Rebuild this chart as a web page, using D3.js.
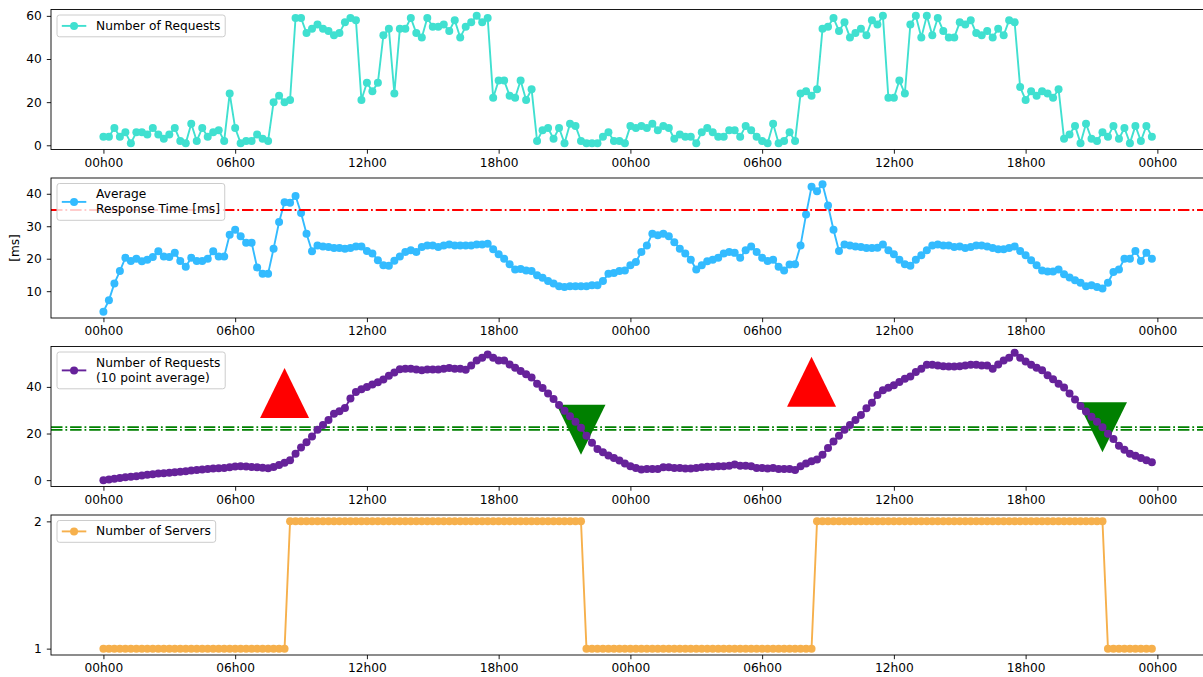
<!DOCTYPE html>
<html>
<head>
<meta charset="utf-8">
<script src="https://cdn.jsdelivr.net/npm/d3@7"></script>
<style>
  html, body { margin: 0; padding: 0; background: #fff; }
  svg { display: block; font-family: "DejaVu Sans", sans-serif; }
</style>
</head>
<body>
<svg id="chart" width="1203" height="677"></svg>
<script>
// Sampling: one point every 15 minutes over two days
const START = new Date(2021, 0, 1, 0, 0);
const STEP_MINUTES = 15;

const requests = [
  4,4,8,4,6,1,6,6,5,8,
  5,3,5,8,2,1,10,2,8,4,
  6,7,2,24,8,1,2,2,5,3,
  2,20,23,20,21,59,59,52,54,56,
  54,53,51,52,57,59,58,21,29,25,
  29,51,54,24,54,54,59,52,50,59,
  55,55,56,53,58,50,55,57,60,57,
  59,22,30,30,23,22,30,21,26,2,
  7,8,3,8,1,10,9,2,1,1,
  1,4,6,2,2,1,9,8,9,8,
  10,7,9,8,3,5,4,4,1,6,
  8,6,4,4,7,7,4,9,7,4,
  2,1,10,1,2,6,2,24,25,23,
  26,54,55,59,53,57,50,52,54,51,
  58,56,60,22,22,30,24,56,60,50,
  60,51,59,53,50,50,57,56,58,52,
  51,53,50,54,51,58,57,27,21,25,
  23,25,24,22,26,3,5,9,1,10,
  3,2,6,4,9,3,8,1,9,2,
  9,4
];

const responseTime = [
  3.7,7.2,12.4,16.2,20.3,19.3,20.0,19.2,19.7,20.5,
  22.3,20.7,20.5,21.8,19.3,17.5,20.3,19.3,19.3,20.0,
  22.3,20.7,20.7,27.4,28.9,26.9,24.9,24.9,17.3,15.4,
  15.4,23.1,31.3,37.4,37.2,39.3,34.1,27.7,22.3,24.1,
  23.8,23.6,23.3,23.3,23.1,23.3,23.8,23.8,22.4,21.6,
  19.5,18.0,17.8,19.4,20.7,22.1,22.6,22.1,23.6,24.1,
  24.1,23.6,24.1,24.4,24.1,24.1,24.1,24.1,24.4,24.4,
  24.6,22.9,21.4,20.0,18.3,16.7,16.8,16.4,16.2,14.9,
  14.1,13.1,12.4,11.5,11.3,11.5,11.5,11.5,11.5,11.8,
  11.8,13.1,15.4,15.6,16.2,16.4,18.0,19.0,22.1,24.1,
  27.7,27.2,27.7,26.9,25.1,23.1,21.6,19.7,16.7,18.0,
  19.2,19.7,20.3,21.6,22.1,21.8,20.3,22.6,23.8,22.1,
  20.3,19.3,19.7,17.5,16.4,18.2,18.3,24.1,33.6,42.2,
  40.8,42.9,36.4,28.9,22.4,24.4,24.1,23.8,23.6,23.3,
  23.3,23.4,24.4,22.6,21.4,19.7,18.3,17.8,19.7,21.1,
  22.6,24.1,24.4,24.1,24.1,23.6,23.8,23.3,23.6,24.1,
  24.1,23.8,23.3,22.9,22.9,23.3,23.8,22.4,21.1,19.5,
  18.0,16.4,16.1,16.1,16.7,15.2,14.2,13.4,12.6,11.5,
  11.8,11.3,10.8,12.6,15.9,16.7,20.0,20.0,22.4,19.3,
  21.8,20.0
];

const requestsAvg = [
  0,0.3,0.6,0.9,1.2,1.4,1.7,2.0,2.3,2.5,
  2.8,3.0,3.2,3.4,3.6,3.8,4.1,4.3,4.6,4.8,
  5.0,5.1,5.2,5.5,5.9,6.0,5.8,5.6,5.5,5.3,
  5.1,5.6,6.5,7.5,8.5,11.3,14.0,16.2,18.7,21.6,
  23.7,25.8,28.5,29.5,31.0,35.0,37.8,39.0,40.0,41.0,
  42.0,43.2,44.8,46.2,47.6,47.8,47.8,47.5,47.1,47.5,
  47.5,47.5,47.8,48.1,47.8,47.8,47.4,49.2,51.3,52.5,
  53.9,52.5,51.3,51.3,49.6,48.2,46.8,45.4,44.0,41.4,
  39.5,37.2,34.8,32.2,29.8,27.4,25.0,22.5,19.0,16.0,
  13.4,12.0,10.6,9.5,8.4,7.1,6.0,5.2,4.6,4.8,
  4.8,4.8,5.5,5.5,5.2,5.2,5.0,5.0,5.2,5.5,
  5.7,5.7,6.0,6.0,6.2,6.7,6.2,6.2,6.0,5.2,
  5.2,5.0,5.2,4.8,4.8,4.8,4.3,6.0,7.1,8.1,
  8.8,10.9,13.8,16.6,19.0,21.6,23.7,25.8,27.9,30.8,
  33.2,36.5,38.6,39.6,40.7,42.1,43.5,44.5,46.4,47.8,
  49.5,49.5,49.2,48.9,48.8,48.8,48.9,49.2,49.5,49.5,
  49.2,49.2,47.8,49.6,51.3,52.5,54.6,52.5,50.9,49.5,
  48.2,47.1,45.0,43.3,41.4,39.7,37.2,34.6,31.8,29.4,
  27.2,25.1,22.7,19.9,17.6,14.8,13.0,11.3,10.5,9.5,
  8.5,7.7
];

const servers = [
  1,1,1,1,1,1,1,1,1,1,
  1,1,1,1,1,1,1,1,1,1,
  1,1,1,1,1,1,1,1,1,1,
  1,1,1,1,2,2,2,2,2,2,
  2,2,2,2,2,2,2,2,2,2,
  2,2,2,2,2,2,2,2,2,2,
  2,2,2,2,2,2,2,2,2,2,
  2,2,2,2,2,2,2,2,2,2,
  2,2,2,2,2,2,2,2,1,1,
  1,1,1,1,1,1,1,1,1,1,
  1,1,1,1,1,1,1,1,1,1,
  1,1,1,1,1,1,1,1,1,1,
  1,1,1,1,1,1,1,1,1,1,
  2,2,2,2,2,2,2,2,2,2,
  2,2,2,2,2,2,2,2,2,2,
  2,2,2,2,2,2,2,2,2,2,
  2,2,2,2,2,2,2,2,2,2,
  2,2,2,2,2,2,2,2,2,2,
  2,2,2,1,1,1,1,1,1,1,
  1,1
];

// Scaling events (sample index) and where their markers sit
const scaleUpIndex = [33, 129];
const scaleDownIndex = [87, 182];
const scaleDownLevel = [21.6, 22.7];
const responseLimit = 35;
const avgThresholds = [22.7, 21.6];

// Axis ticks
const xTickHours = [0, 6, 12, 18, 24, 30, 36, 42, 48];
const yTicksRequests = [0, 20, 40, 60];
const yTicksResponse = [10, 20, 30, 40];
const yTicksAvg = [0, 20, 40];
const yTicksServers = [1, 2];

// ---- layout ----
const svg = d3.select("#chart");
const FONT = 12.2;
const DOT_R = 4;
const LINE_W = 1.9;
const plotLeft = 51, plotRight = 1204.3;
const panelTops = [9.5, 178, 346.5, 515];
const panelH = 140;

const times = requests.map((_, i) => new Date(START.getTime() + i * STEP_MINUTES * 60000));
const t0 = times[0], t1 = times[times.length - 1];
const span = t1 - t0;
const x = d3.scaleTime()
  .domain([new Date(+t0 - 0.05 * span), new Date(+t1 + 0.05 * span)])
  .range([plotLeft, plotRight]);
const xTicks = xTickHours.map(h => new Date(+t0 + h * 3600000));
const fmt = d3.timeFormat("%Hh%M");

function padded(vals) {
  const [lo, hi] = d3.extent(vals);
  const r = hi - lo;
  return [lo - 0.05 * r, hi + 0.05 * r];
}

function styleAxis(sel) {
  sel.select(".domain").remove();
  sel.selectAll(".tick line").attr("stroke", "#000").attr("stroke-width", 0.9);
  sel.selectAll(".tick text")
    .attr("fill", "#000")
    .style("font-size", FONT + "px")
    .style("font-family", '"DejaVu Sans", sans-serif');
}

function makePanel(k, extentValues, yTicks) {
  const top = panelTops[k];
  const g = svg.append("g");
  const y = d3.scaleLinear().domain(padded(extentValues)).range([top + panelH, top]);

  g.append("g")
    .attr("transform", `translate(0,${top + panelH})`)
    .call(d3.axisBottom(x).tickValues(xTicks).tickFormat(fmt)
      .tickSize(4.2).tickPadding(4.2).tickSizeOuter(0))
    .call(styleAxis);

  g.append("g")
    .attr("transform", `translate(${plotLeft},0)`)
    .call(d3.axisLeft(y).tickValues(yTicks).tickFormat(d3.format("d"))
      .tickSize(4.2).tickPadding(5).tickSizeOuter(0))
    .call(styleAxis);

  const clipId = "clip" + k;
  g.append("clipPath").attr("id", clipId)
    .append("rect")
    .attr("x", plotLeft).attr("y", top)
    .attr("width", plotRight - plotLeft).attr("height", panelH);

  const body = g.append("g").attr("clip-path", `url(#${clipId})`);
  const overlay = g.append("g");
  return { g, y, top, body, overlay };
}

function drawSeries(p, values, color) {
  const line = d3.line().x((d, i) => x(times[i])).y(d => p.y(d));
  p.body.append("path")
    .datum(values)
    .attr("d", line)
    .attr("fill", "none")
    .attr("stroke", color)
    .attr("stroke-width", LINE_W)
    .attr("stroke-linejoin", "round");
  p.body.append("g").selectAll("circle")
    .data(values)
    .join("circle")
    .attr("cx", (d, i) => x(times[i]))
    .attr("cy", d => p.y(d))
    .attr("r", DOT_R)
    .attr("fill", color);
}

function hline(p, value, color) {
  p.body.append("line")
    .attr("x1", plotLeft).attr("x2", plotRight)
    .attr("y1", p.y(value)).attr("y2", p.y(value))
    .attr("stroke", color)
    .attr("stroke-width", 1.8)
    .attr("stroke-dasharray", "11.5,2.9,1.8,2.9");
}

function triangle(p, index, value, color, up) {
  const cx = x(times[index]), cy = p.y(value);
  const hw = 24.5, hh = 25;
  const d = up
    ? `M${cx},${cy - hh}L${cx + hw},${cy + hh}L${cx - hw},${cy + hh}Z`
    : `M${cx},${cy + hh}L${cx + hw},${cy - hh}L${cx - hw},${cy - hh}Z`;
  p.body.append("path").attr("d", d).attr("fill", color);
}

function legend(p, lines, color) {
  const bx = plotLeft + 6, by = p.top + 5.5;
  const lineH = 15, pad = 3.4;
  const lg = p.overlay.append("g");
  const box = lg.append("rect")
    .attr("x", bx).attr("y", by)
    .attr("rx", 2.5).attr("ry", 2.5)
    .attr("height", pad * 2 + lineH * lines.length)
    .attr("fill", "#fff").attr("fill-opacity", 0.8)
    .attr("stroke", "#cccccc").attr("stroke-width", 1);
  const hx0 = bx + 4.8, hx1 = hx0 + 24.5;
  const textX = hx1 + 9.8;
  let maxW = 0;
  lines.forEach((t, j) => {
    const cy = by + pad + lineH * j + lineH / 2;
    const txt = lg.append("text")
      .attr("x", textX).attr("y", cy + 3.6)
      .attr("fill", "#000")
      .style("font-size", FONT + "px")
      .text(t);
    maxW = Math.max(maxW, txt.node().getComputedTextLength());
  });
  const hy = by + pad + lineH * lines.length / 2;
  lg.append("line").attr("x1", hx0).attr("x2", hx1).attr("y1", hy).attr("y2", hy)
    .attr("stroke", color).attr("stroke-width", LINE_W);
  lg.append("circle").attr("cx", (hx0 + hx1) / 2).attr("cy", hy).attr("r", DOT_R).attr("fill", color);
  box.attr("width", textX + maxW + 4.8 - bx);
}

function frame(p) {
  p.overlay.append("rect")
    .attr("x", plotLeft).attr("y", p.top)
    .attr("width", plotRight - plotLeft).attr("height", panelH)
    .attr("fill", "none").attr("stroke", "#000").attr("stroke-width", 0.9);
}

// Panel 1: raw request count
const p1 = makePanel(0, requests, yTicksRequests);
drawSeries(p1, requests, "#40E0D0");
frame(p1);
legend(p1, ["Number of Requests"], "#40E0D0");

// Panel 2: response time with its limit
const p2 = makePanel(1, responseTime, yTicksResponse);
drawSeries(p2, responseTime, "#33BBFF");
hline(p2, responseLimit, "#ff0000");
frame(p2);
legend(p2, ["Average", "Response Time [ms]"], "#33BBFF");
svg.append("text")
  .attr("transform", `translate(15,${p2.top + panelH / 2}) rotate(-90)`)
  .attr("text-anchor", "middle")
  .attr("dy", "0.35em")
  .attr("fill", "#000")
  .style("font-size", FONT + "px")
  .text("[ms]");

// Panel 3: smoothed requests with scaling events
const p3 = makePanel(2, requestsAvg.concat(scaleUpIndex.map(i => responseTime[i]), scaleDownLevel), yTicksAvg);
scaleUpIndex.forEach(i => triangle(p3, i, responseTime[i], "#ff0000", true));
scaleDownIndex.forEach((i, j) => triangle(p3, i, scaleDownLevel[j], "#008000", false));
avgThresholds.forEach(v => hline(p3, v, "#008000"));
drawSeries(p3, requestsAvg, "#66229A");
frame(p3);
legend(p3, ["Number of Requests", "(10 point average)"], "#66229A");

// Panel 4: active servers
const p4 = makePanel(3, servers, yTicksServers);
drawSeries(p4, servers, "#F6B04C");
frame(p4);
legend(p4, ["Number of Servers"], "#F6B04C");
</script>
</body>
</html>
